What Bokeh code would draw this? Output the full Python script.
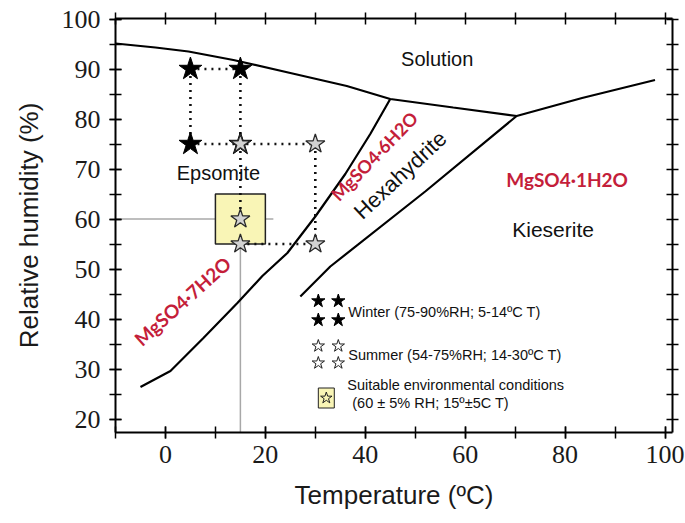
from bokeh.plotting import figure
from bokeh.models import Range1d, FixedTicker, LinearAxis
from bokeh.core.properties import value
from bokeh.embed import file_html
from bokeh.resources import INLINE
import math

# ---------------- data ----------------
# phase boundaries (Temperature ºC, Relative humidity %)
sol_T = [-10, -2, 4.6, 13.6, 25, 36.3, 45, 57.6, 70.3, 83.4, 98]
sol_RH = [95.1, 94.3, 93.5, 91.8, 89.2, 86.6, 84, 82.3, 80.6, 84.2, 87.8]

eps_hex_T = [-5, 1, 7.6, 14.4, 19.4, 24.4, 30, 36, 41, 45]
eps_hex_RH = [26.4, 29.6, 36.2, 43.2, 48.6, 53.2, 60.5, 69, 77, 84]

hex_kie_T = [27, 33, 52, 70.3]
hex_kie_RH = [44.5, 50.5, 65.5, 80.6]

# winter / summer conditions
winter_T = [5, 15, 5, 15]
winter_RH = [90, 90, 75, 75]
summer_T = [15, 30, 15, 30, 15]
summer_RH = [75, 75, 55, 55, 60]

# dotted connections (T0, RH0, T1, RH1)
dot_T0 = [5, 5, 15, 5, 30, 15, 15]
dot_RH0 = [90, 90, 90, 75, 75, 55, 75]
dot_T1 = [15, 5, 15, 30, 30, 30, 15]
dot_RH1 = [90, 75, 75, 75, 55, 55, 60]

# suitable environmental conditions: 60 ± 5 % RH, 15 ± 5 ºC
suit_T, suit_dT = 15, 5
suit_RH, suit_dRH = 60, 5

x_ticks = [0, 20, 40, 60, 80, 100]
x_minor = [-10, 0, 10, 20, 30, 40, 50, 60, 70, 80, 90, 100]
y_ticks = [20, 30, 40, 50, 60, 70, 80, 90, 100]
y_minor = [20, 25, 30, 35, 40, 45, 50, 55, 60, 65, 70, 75, 80, 85, 90, 95, 100]

RED = "#c41e3a"
SANS = "Liberation Sans"
SERIF = "Liberation Serif"

p = figure(width=685, height=523,
           x_range=Range1d(-10, 101.5), y_range=Range1d(17.3, 100.1),
           output_backend="svg", toolbar_location=None,
           min_border_left=115, min_border_right=13,
           min_border_top=18, min_border_bottom=91)
p.outline_line_color = None
p.xgrid.visible = False
p.ygrid.visible = False
p.background_fill_color = "white"
p.border_fill_color = "white"


def style_axis(ax, ticks, minor):
    ax.ticker = FixedTicker(ticks=ticks, minor_ticks=minor)
    ax.axis_line_color = "black"
    ax.axis_line_width = 2
    ax.major_tick_line_color = "black"
    ax.major_tick_line_width = 1.5
    ax.minor_tick_line_color = "black"
    ax.minor_tick_line_width = 1.5
    ax.major_tick_in = 6
    ax.major_tick_out = 6
    ax.minor_tick_in = 6
    ax.minor_tick_out = 6
    ax.major_label_text_font = SERIF
    ax.major_label_text_font_size = "26px"
    ax.major_label_text_color = "#1a1a1a"


style_axis(p.xaxis[0], x_ticks, x_minor)
style_axis(p.yaxis[0], y_ticks, y_minor)
p.xaxis[0].major_label_standoff = 7
p.yaxis[0].major_label_standoff = 9
p.xaxis[0].axis_label = "Temperature (ºC)"
p.yaxis[0].axis_label = "Relative humidity (%)"
for ax in (p.xaxis[0], p.yaxis[0]):
    ax.axis_label_text_font = SANS
    ax.axis_label_text_font_size = "26px"
    ax.axis_label_text_font_style = "normal"
    ax.axis_label_text_color = "#1a1a1a"
p.xaxis[0].axis_label_standoff = 14
p.yaxis[0].axis_label_standoff = 15

# frame axes on top and right: ticks only, no labels
top = LinearAxis()
style_axis(top, [], x_minor)
p.add_layout(top, "above")
right = LinearAxis()
style_axis(right, [], y_minor)
p.add_layout(right, "right")

# ---------------- guide lines and box ----------------
p.segment(x0=[-10, suit_T], y0=[suit_RH, 17.3], x1=[suit_T + 6.6, suit_T], y1=[suit_RH, suit_RH - suit_dRH],
          line_color="#a8a8a8", line_width=1.5)
p.quad(left=[suit_T - suit_dT], right=[suit_T + suit_dT],
       bottom=[suit_RH - suit_dRH], top=[suit_RH + suit_dRH],
       fill_color="#f9f5b6", line_color="#222222", line_width=1.5)

# ---------------- phase boundaries ----------------
for xs, ys in ((sol_T, sol_RH), (eps_hex_T, eps_hex_RH), (hex_kie_T, hex_kie_RH)):
    p.line(xs, ys, line_color="black", line_width=2.2)

# dotted connectors
p.segment(x0=dot_T0, y0=dot_RH0, x1=dot_T1, y1=dot_RH1,
          line_color="#111111", line_width=2.6, line_dash="2 5")

# ---------------- stars ----------------
p.scatter(winter_T, winter_RH, marker="star", size=24,
          fill_color="black", line_color="black", line_width=1)
p.scatter(summer_T, summer_RH, marker="star", size=20,
          fill_color="#d2d2d2", line_color="#2a2a2a", line_width=1.3)


# ---------------- region labels ----------------
def txt(x, y, s, size, color="#111111", angle=0.0, bold=False, align="center"):
    p.text(x=[x], y=[y], text=[s], text_font=value(SANS if not bold else "Lato"),
           text_font_size=size, text_color=color, angle=math.radians(angle),
           text_align=align, text_baseline="middle",
           text_font_style="bold" if bold else "normal")


txt(54.4, 92, "Solution", "20px")
txt(10.6, 69.2, "Epsomite", "20px")
txt(47.0, 68.8, "Hexahydrite", "22px", angle=43)
txt(77.6, 58, "Kieserite", "21px")
txt(41.8, 72.6, "MgSO4·6H2O", "18px", color=RED, angle=46, bold=True)
txt(80.4, 68, "MgSO4·1H2O", "19px", color=RED, bold=True)
txt(3.4, 43.6, "MgSO4·7H2O", "19px", color=RED, angle=42, bold=True)

# ---------------- legend (drawn inside the plot) ----------------
lg_T = [30.6, 34.6]
p.scatter([lg_T[0], lg_T[1], lg_T[0], lg_T[1]], [43.6, 43.6, 39.8, 39.8], marker="star",
          size=14, fill_color="black", line_color="black")
p.scatter([lg_T[0], lg_T[1], lg_T[0], lg_T[1]], [34.6, 34.6, 31.2, 31.2], marker="star",
          size=13, fill_color="white", line_color="#222222", line_width=1)
p.quad(left=[30.6], right=[33.8], bottom=[22.2], top=[26.2],
       fill_color="#f9f5b6", line_color="#222222", line_width=1)
p.scatter([32.2], [24.2], marker="star", size=12, fill_color="#f9f5b6",
          line_color="#222222", line_width=1)
txt(36.6, 41.4, "Winter (75-90%RH; 5-14ºC T)", "14.5px", align="left")
txt(36.6, 32.8, "Summer (54-75%RH; 14-30ºC T)", "14.5px", align="left")
txt(36.4, 26.8, "Suitable environmental conditions", "14.5px", align="left")
txt(37.4, 23.2, "(60 ± 5% RH; 15º±5C T)", "14.5px", align="left")

open("out.html", "w").write(file_html(p, INLINE))
